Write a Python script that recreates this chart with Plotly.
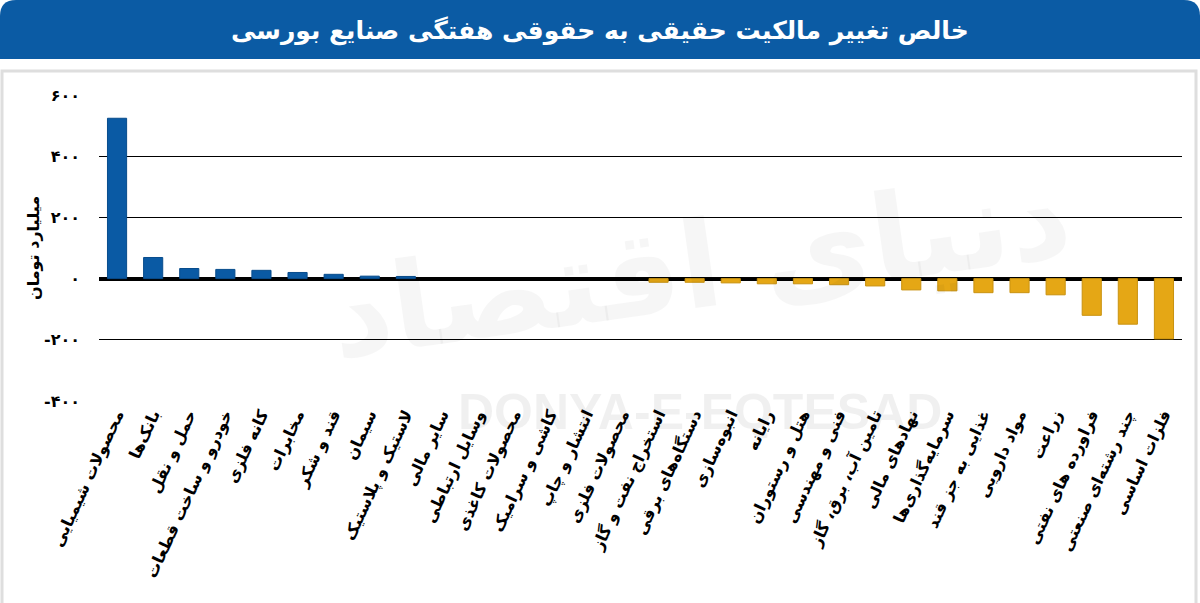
import plotly.graph_objects as go

categories = [
    "محصولات شیمیایی", "بانک‌ها", "حمل و نقل", "خودرو و ساخت قطعات", "کانه فلزی",
    "مخابرات", "قند و شکر", "سیمان", "لاستیک و پلاستیک", "سایر مالی",
    "وسایل ارتباطی", "محصولات کاغذی", "کاشی و سرامیک", "انتشار و چاپ", "محصولات فلزی",
    "استخراج نفت و گاز", "دستگاه‌های برقی", "انبوه‌سازی", "رایانه", "هتل و رستوران",
    "فنی و مهندسی", "تامین آب، برق، گاز", "نهادهای مالی", "سرمایه‌گذاری‌ها", "غذایی به جز قند",
    "مواد دارویی", "زراعت", "فراورده های نفتی", "چند رشته‌ای صنعتی", "فلزات اساسی",
]
values = [
    524, 69, 33, 30, 27,
    20, 14, 8, 7, 0,
    0, 0, 0, 0, 0,
    -12, -12, -14, -17, -17,
    -20, -24, -37, -40, -46,
    -46, -53, -120, -149, -197,
]
y_tickvals = [-400, -200, 0, 200, 400, 600]
y_ticktext = ["-۴۰۰", "-۲۰۰", "۰", "۲۰۰", "۴۰۰", "۶۰۰"]

title_text = "خالص تغییر مالکیت حقیقی به حقوقی هفتگی صنایع بورسی"
y_title = "میلیارد تومان"

BLUE = "#0a5aa4"
GOLD = "#e5a715"
FONT = "DejaVu Sans"

W, H = 1200, 603
L, R, T, B = 99, 1182, 95, 401


def xp(px):
    return (px - L) / (R - L)


def yp(py):
    return (B - py) / (B - T)


colors = [BLUE if v >= 0 else GOLD for v in values]
line_colors = ["#084c8c" if v >= 0 else "#c99210" for v in values]
line_widths = [1 if v != 0 else 0 for v in values]

fig = go.Figure()
fig.add_trace(go.Bar(
    x=categories, y=values,
    marker=dict(color=colors, line=dict(color=line_colors, width=line_widths)),
    width=0.53,
))

shapes = []
r = 16
shapes.append(dict(
    type="path", xref="paper", yref="paper",
    path=(f"M {xp(0)},{yp(59)} L {xp(0)},{yp(r)} Q {xp(0)},{yp(0)} {xp(r)},{yp(0)} "
          f"L {xp(W - r)},{yp(0)} Q {xp(W)},{yp(0)} {xp(W)},{yp(r)} L {xp(W)},{yp(59)} Z"),
    fillcolor="#0b5ba4", line=dict(width=0), layer="below",
))
shapes.append(dict(
    type="rect", xref="paper", yref="paper",
    x0=xp(2), x1=xp(1196), y0=yp(640), y1=yp(71),
    line=dict(color="#dedede", width=3), fillcolor="rgba(0,0,0,0)", layer="below",
))

annotations = [
    dict(text=f"<b>{title_text}</b>", x=xp(600), y=yp(31), xref="paper", yref="paper",
         showarrow=False, font=dict(family=FONT, size=25, color="white"),
         xanchor="center", yanchor="middle"),
    dict(text=f"<b>{y_title}</b>", x=xp(33), y=yp(248), xref="paper", yref="paper",
         showarrow=False, textangle=-90, font=dict(family=FONT, size=16, color="black"),
         xanchor="center", yanchor="middle"),
    dict(text="<b>DONYA-E-EQTESAD</b>", x=xp(700), y=yp(412), xref="paper", yref="paper",
         showarrow=False, font=dict(family="Liberation Sans", size=50, color="rgba(0,0,0,0.06)"),
         xanchor="center", yanchor="middle"),
    dict(text="<b>دنیای اقتصاد</b>", x=xp(700), y=yp(265), xref="paper", yref="paper",
         showarrow=False, font=dict(family=FONT, size=120, color="rgba(0,0,0,0.035)"),
         xanchor="center", yanchor="middle", textangle=-8),
]

fig.update_layout(
    width=W, height=H,
    margin=dict(l=L, r=W - R, t=T, b=H - B, pad=0),
    paper_bgcolor="white", plot_bgcolor="white",
    showlegend=False,
    shapes=shapes, annotations=annotations,
    bargap=0.47,
    font=dict(family=FONT, color="black"),
)
fig.update_yaxes(
    range=[-400, 600], tickvals=y_tickvals, ticktext=[f"<b>{t}</b>" for t in y_ticktext],
    showgrid=True, gridcolor="black", gridwidth=1.3,
    zeroline=True, zerolinecolor="black", zerolinewidth=3.5,
    showline=False, ticks="", ticklabelstandoff=18,
    tickfont=dict(family=FONT, size=16, color="black"),
)
fig.update_xaxes(
    tickangle=-65, showgrid=False, showline=False, ticks="",
    tickfont=dict(family=FONT, size=16, color="black"),
    tickvals=categories, ticktext=[f"<b>{c}</b>" for c in categories],
)

fig.write_html("out.html", config={"displayModeBar": False},
               post_script="document.body.style.margin='0';")
